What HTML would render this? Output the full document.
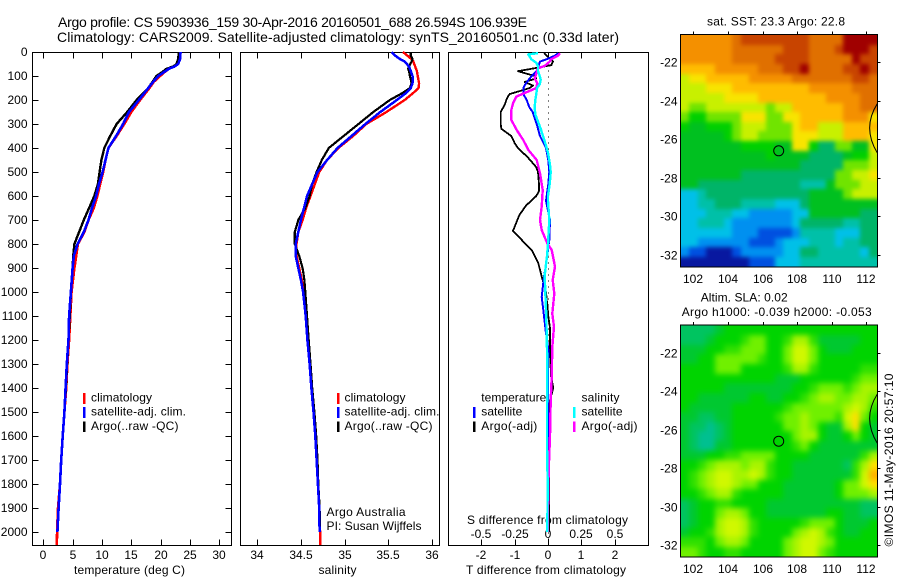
<!DOCTYPE html>
<html lang="en">
<head>
<meta charset="utf-8">
<title>Argo profile 5903936_159</title>
<style>
html,body{margin:0;padding:0;background:#fff;width:900px;height:580px;overflow:hidden}
svg{display:block}
text{font-family:"Liberation Sans",sans-serif;fill:#000;font-size:12px}
.ttl{font-size:14px}
</style>
</head>
<body>
<svg id="chart" xmlns="http://www.w3.org/2000/svg" width="900" height="580" viewBox="0 0 900 580">
<defs>
<filter id="blur-sst" x="660" y="15" width="240" height="270" filterUnits="userSpaceOnUse" color-interpolation-filters="sRGB"><feGaussianBlur stdDeviation="2"/></filter>
<filter id="blur-sla" x="660" y="305" width="240" height="270" filterUnits="userSpaceOnUse" color-interpolation-filters="sRGB"><feGaussianBlur stdDeviation="3"/></filter>
<clipPath id="clip-sst"><rect x="680.5" y="35" width="197" height="231.5"/></clipPath>
<clipPath id="clip-sla"><rect x="680.5" y="325.5" width="197" height="231"/></clipPath>
</defs>
<text class="ttl" x="58" y="27" textLength="469">Argo profile: CS 5903936_159 30-Apr-2016 20160501_688 26.594S 106.939E</text>
<text class="ttl" x="57" y="42" textLength="562">Climatology: CARS2009. Satellite-adjusted climatology: synTS_20160501.nc (0.33d later)</text>

<text x="74" y="574" textLength="111">temperature (deg C)</text>
<text x="318.5" y="574" textLength="38">salinity</text>
<text x="466" y="574" textLength="160">T difference from climatology</text>
<text x="467" y="524" textLength="161">S difference from climatology</text>

<text x="91" y="401.5" textLength="61">climatology</text>
<text x="91" y="415.5" textLength="95">satellite-adj. clim.</text>
<text x="91" y="430" textLength="87.5">Argo(..raw -QC)</text>
<rect x="83" y="393" width="2.5" height="11" fill="#f00"/>
<rect x="83" y="407" width="2.5" height="11" fill="#00f"/>
<rect x="83" y="421.5" width="2.5" height="10.5" fill="#000"/>

<text x="344.5" y="401.5" textLength="61">climatology</text>
<text x="344.5" y="415.5" textLength="95">satellite-adj. clim.</text>
<text x="344.5" y="430" textLength="88">Argo(..raw -QC)</text>
<rect x="337" y="393" width="2.5" height="11" fill="#f00"/>
<rect x="337" y="407" width="2.5" height="11" fill="#00f"/>
<rect x="337" y="421.5" width="2.5" height="10.5" fill="#000"/>

<text x="326.5" y="516" textLength="79">Argo Australia</text>
<text x="326.5" y="530" textLength="95">PI: Susan Wijffels</text>

<text x="481.3" y="401.5" textLength="65">temperature</text>
<text x="481.3" y="415.5" textLength="41">satellite</text>
<text x="481.3" y="430" textLength="56">Argo(-adj)</text>
<text x="581.5" y="401.5" textLength="38">salinity</text>
<text x="581.5" y="415.5" textLength="41">satellite</text>
<text x="581.5" y="430" textLength="56">Argo(-adj)</text>
<rect x="473" y="407" width="2.5" height="11" fill="#00f"/>
<rect x="473" y="421.5" width="2.5" height="10.5" fill="#000"/>
<rect x="573" y="407" width="2.5" height="11" fill="#0ff"/>
<rect x="573" y="421.5" width="2.5" height="10.5" fill="#f0f"/>

<text x="707" y="25.7" textLength="138">sat. SST: 23.3 Argo: 22.8</text>
<text x="700.7" y="301.7" textLength="87">Altim. SLA: 0.02</text>
<text x="681.7" y="316" textLength="190">Argo h1000: -0.039 h2000: -0.053</text>
<text transform="translate(893,546.5) rotate(-90)" textLength="173">©IMOS 11-May-2016 20:57:10</text>
</svg>
<script>
// ---- profile data ----
const tempDepths = [0,30,50,60,70,85,100,125,150,175,200,250,300,350,400,450,500,550,600,650,700,750,800,850,900,1000,1100,1200,1300,1400,1500,1600,1700,1800,1900,2000,2055];
const tempClim = [23.2,23.1,22.8,22.3,21.4,20.6,19.9,18.8,18.1,17.3,16.5,15,13.8,12.5,11.1,10.6,10.2,9.7,9.2,8.6,7.7,7,5.9,5.6,5.3,4.8,4.6,4.4,4.1,3.9,3.6,3.3,3.05,2.85,2.5,2.35,2.3];
const tempSat = [23.4,23.3,23,22.4,21.4,20.5,19.6,18.7,17.9,17.1,16.3,14.6,13.6,12.4,11.1,10.6,10.1,9.5,9,8.3,7.7,6.9,5.85,5.2,5,4.7,4.4,4.3,4,3.8,3.6,3.3,3.05,2.85,2.6,2.4];
const tempArgo = [23.1,23,22.7,22.2,21,20.2,19.3,18.6,17.9,16.9,15.9,14.3,12.5,11.4,10.4,9.9,9.6,9.3,8.7,7.8,6.9,6.1,5.3,5.1,5,4.7,4.5,4.3,4.05,3.85,3.6,3.3,3.05,2.85,2.6,2.4];

const salDepths = [0,15,30,40,60,70,80,100,130,150,170,200,250,300,350,400,450,500,550,600,650,700,750,800,850,900,950,1000,1100,1200,1300,1400,1500,1600,1700,1800,1900,2000,2055];
const salClim = [35.67,35.72,35.77,35.79,35.81,35.82,35.83,35.84,35.855,35.85,35.79,35.69,35.48,35.25,35.1,34.93,34.8,34.71,34.66,34.61,34.56,34.52,34.47,34.45,34.45,34.48,34.51,34.53,34.56,34.58,34.6,34.62,34.65,34.67,34.68,34.7,34.71,34.72,34.72];
const salSat = [35.54,35.58,35.64,35.69,35.74,35.75,35.76,35.78,35.78,35.76,35.71,35.6,35.41,35.24,35.08,34.92,34.8,34.69,34.63,34.57,34.535,34.5,34.47,34.44,34.44,34.47,34.5,34.525,34.555,34.575,34.6,34.62,34.645,34.665,34.68,34.695,34.71,34.715];
const salArgo = [35.76,35.76,35.78,35.77,35.74,35.73,35.74,35.75,35.77,35.75,35.67,35.52,35.33,35.16,34.99,34.82,34.74,34.68,34.63,34.6,34.55,34.47,34.43,34.43,34.48,34.52,34.54,34.55,34.57,34.59,34.61,34.63,34.655,34.675,34.69,34.7,34.715,34.72];

const diffTArgoDepths = [5,20,40,55,65,80,100,110,125,140,150,165,175,185,200,220,250,280,300,320,350,380,400,440,480,500,550,580,600,640,680,745,790,825,880,936,1000,1100,1150,1250,1350,1400,1450,1550,1700,1900,2000];
const diffTArgo = [-0.12,0,0.15,0.1,-0.3,-0.9,-0.4,-0.35,-0.7,-0.45,-0.55,-0.9,-1.15,-1.2,-1.25,-1.3,-1.42,-1.42,-1.42,-1.4,-1.1,-1,-0.9,-0.6,-0.35,-0.3,-0.27,-0.27,-0.35,-0.66,-0.86,-1.05,-0.74,-0.49,-0.29,-0.19,-0.06,0.01,0.06,0.06,0.09,0.16,0.06,0.04,0.03,0.03,0.03];
const diffTSatDepths = [5,15,30,40,60,80,100,130,150,175,200,230,250,300,350,400,450,500,550,600,620,700,783,867,936,1020,1075,1172,1240,1500,2000];
const diffTSat = [0.31,0.21,-0.04,-0.24,-0.29,-0.34,-0.49,-0.66,-0.74,-0.74,-0.64,-0.56,-0.46,-0.34,-0.24,-0.06,0.01,0.04,0.01,-0.04,-0.06,0.06,0.04,-0.04,-0.12,-0.19,-0.14,-0.06,0.01,0,0];
const diffSArgoDepths = [5,15,30,40,58,68,90,110,130,150,165,186,214,242,283,325,367,408,450,505,575,644,700,742,797,825,894,950,1006,1090,1145,1229,1354,1450,1600,1740,1900,2000];
const diffSArgo = [0.09,0.075,0.025,0.0125,-0.025,-0.075,-0.0875,-0.1,-0.08,-0.0875,-0.15,-0.2375,-0.2625,-0.275,-0.275,-0.235,-0.185,-0.1475,-0.085,-0.06,-0.04,-0.0475,-0.06,-0.0475,-0.005,0.0275,0.0525,0.035,0.0475,0.0325,0.045,0.0325,0.0275,0.02,0.015,0.005,0,0];
const diffSSatDepths = [5,10,30,45,60,80,100,115,135,150,175,200,230,260,290,320,350,380,420,470,500,550,600,620,700,800,850,930,1000,1100,1300,1500,1650,1800,2000];
const diffSSat = [-0.075,-0.1475,-0.125,-0.0875,-0.075,-0.075,-0.0625,-0.055,-0.0625,-0.0825,-0.0875,-0.095,-0.1,-0.095,-0.075,-0.055,-0.0375,-0.02,0,0.015,0.02,0.0125,0,0,0.01,0,-0.0075,-0.025,-0.02,-0.0125,-0.005,-0.0075,-0.0075,-0.0025,-0.005];

// ---- tick labels ----
const depthTicks = [0,100,200,300,400,500,600,700,800,900,1000,1100,1200,1300,1400,1500,1600,1700,1800,1900,2000];
const tempTicks = [0,5,10,15,20,25,30];
const salTicks = [34,34.5,35,35.5,36];
const diffTTicks = [-2,-1,0,1,2];
const diffSTicks = [-0.5,-0.25,0,0.25,0.5];
const lonTicks = [102,104,106,108,110,112];
const latTicks = [-22,-24,-26,-28,-30,-32];
const floatLon = [106.939];
const floatLat = [-26.594];

// ---- map colour-scale levels (rows north to south) ----
const sstLevels = [
[12,12,12,12,12,12,13,14,14,14,14,14,14,14,14,13,13,13,13,15,15,15,15],
[12,12,12,12,12,12,13,13,13,13,13,13,14,14,14,13,13,13,14,15,15,15,14],
[12,12,12,12,12,12,13,13,13,13,13,14,14,14,14,13,13,13,13,13,15,14,14],
[11,11,11,11,12,12,12,12,12,13,13,13,14,14,15,13,13,13,13,14,14,15,14],
[9,10,10,11,11,11,11,11,12,12,12,12,12,13,13,13,13,13,13,13,14,14,13],
[9,9,9,10,10,10,11,11,11,11,11,11,11,11,11,12,12,12,12,12,13,13,13],
[9,9,9,9,9,10,10,10,10,11,11,11,11,11,11,11,11,12,12,12,12,13,13],
[9,8,8,9,9,9,9,9,9,9,8,9,9,11,11,11,11,11,11,12,12,13,13],
[8,7,7,8,8,8,8,10,10,10,8,8,10,10,11,11,11,11,11,12,12,12,10],
[7,6,6,7,7,7,8,9,9,9,8,8,8,10,11,11,9,9,9,11,11,11,11],
[6,6,6,6,6,7,8,9,9,8,8,8,8,10,10,10,9,9,9,11,11,11,10],
[6,6,6,6,6,6,6,7,7,7,7,6,6,10,10,7,5,5,8,8,6,6,10],
[6,6,6,6,6,6,6,6,6,6,7,6,6,6,6,5,5,5,5,6,7,7,9],
[6,6,6,6,6,6,6,6,6,6,6,6,6,6,5,5,5,5,5,8,8,8,9],
[6,6,6,6,6,6,6,5,5,5,5,5,5,5,5,5,5,5,8,8,9,9,10],
[6,6,5,5,5,5,5,5,5,5,5,5,5,5,4,4,4,6,8,8,8,9,9],
[3,3,4,5,5,5,5,5,5,5,5,5,5,5,5,6,6,6,6,8,9,9,9],
[3,3,4,4,5,5,5,4,4,4,4,3,3,3,5,6,6,6,6,6,6,6,6],
[3,3,3,4,4,4,3,3,2,2,2,2,2,3,3,6,6,6,6,6,6,5,5],
[3,3,4,4,4,3,2,2,2,2,2,2,2,3,5,5,5,5,5,4,4,5,5],
[3,3,3,3,3,3,2,2,2,1,1,1,1,2,4,4,4,4,3,3,3,5,5],
[3,3,2,2,2,2,2,2,1,1,1,2,3,3,3,4,4,4,3,4,4,5,5],
[2,1,1,0,0,0,1,2,2,2,2,2,3,3,5,5,4,4,4,4,4,3,5],
[0,0,0,0,0,0,0,0,1,1,1,3,3,3,4,4,4,4,4,4,4,4,4]
];
const slaLevels = [
[1,1,1,1,2,3,3,3,3,3,3,3,3,3,3,3,3,3,3,3,3,3,3],
[1,1,1,2,3,3,3,4,5,5,3,3,4,6,6,4,2,2,2,2,2,3,3],
[2,2,2,3,3,4,4,5,5,5,3,3,5,7,7,5,3,2,2,2,3,3,3],
[2,2,3,3,5,5,5,5,5,4,3,3,5,7,7,5,3,3,3,3,3,3,3],
[3,3,3,3,5,5,5,3,3,3,3,3,4,6,6,4,3,3,3,3,3,4,4],
[3,3,3,3,3,3,3,3,3,3,3,2,2,2,3,3,3,3,3,3,4,5,5],
[3,3,3,3,3,2,2,2,2,2,2,2,2,3,3,4,5,5,5,4,5,6,6],
[3,3,2,2,2,2,2,2,3,3,2,2,3,3,4,5,6,6,5,5,6,6,5],
[3,2,2,2,2,2,3,3,3,3,3,3,4,5,5,5,5,5,5,6,7,6,4],
[2,2,1,1,2,2,3,3,3,3,3,4,5,5,6,5,5,5,4,7,8,5,3],
[2,1,1,0,1,2,3,3,3,3,3,3,5,5,6,5,3,2,2,6,8,3,2],
[2,1,0,0,1,2,3,3,3,3,3,3,3,5,6,6,3,2,2,3,5,3,2],
[2,1,0,0,2,2,3,3,3,3,3,3,3,4,5,3,2,2,2,2,2,2,2],
[2,2,2,3,3,4,4,5,5,5,5,3,3,3,3,2,2,2,2,2,2,4,6],
[3,3,4,5,6,6,6,5,6,6,4,3,3,2,2,2,2,2,2,1,4,6,8],
[3,4,5,6,7,7,6,6,7,6,4,3,3,2,2,2,2,2,2,2,4,7,9],
[3,4,5,6,7,7,6,5,5,3,3,3,2,2,2,2,2,2,3,5,5,7,8],
[3,3,4,5,6,6,4,3,3,3,3,3,2,2,2,2,2,2,3,5,5,5,6],
[1,2,3,3,4,4,3,3,3,3,2,2,2,2,2,2,2,2,2,2,2,1,1],
[1,2,3,3,5,6,6,5,3,3,2,2,2,2,2,2,2,3,3,2,2,1,1],
[1,2,3,3,6,7,7,6,4,3,3,3,3,3,4,5,5,5,3,2,2,2,3],
[2,3,3,4,6,7,7,6,4,3,3,3,3,5,6,7,6,4,3,2,2,3,3],
[4,4,4,3,5,6,6,5,3,3,3,3,5,6,7,7,6,5,3,3,3,3,3],
[5,5,4,3,3,4,4,3,3,3,3,3,5,6,7,7,5,4,3,3,3,3,3]
];
const sstColors = ['#0818a0','#0050e0','#0090f0','#00c0e8','#00c0a8','#00b468','#00c020','#00d000','#70e400','#c8f000','#f8e400','#ffbc00','#f49000','#e07000','#c84400','#a00000'];
const slaColors = ['#00c090','#00c460','#00c830','#00d400','#30e000','#70f000','#a8f400','#d0f800','#ffe000','#ffb000'];

// ---- helpers ----
const NS = 'http://www.w3.org/2000/svg';
const svg = document.getElementById('chart');
function mk(tag, attrs, txt, parent) {
  const el = document.createElementNS(NS, tag);
  for (const k in attrs) el.setAttribute(k, attrs[k]);
  if (txt !== undefined && txt !== null) el.textContent = txt;
  (parent || svg).appendChild(el);
  return el;
}
const depthY = d => 52 + d * 0.24;
const tempX = t => 43.3 + t * 5.867;
const salX = s => 257.3 + (s - 34) * 87.2;
const diffTX = t => 548 + t * 33.33;
const diffSX = s => 548 + s * 4 * 33.33;
const TOP = 52.5, BOT = 545.5;

function frame(name, x0, x1) {
  const el = mk('rect', {x:x0, y:TOP, width:x1-x0, height:BOT-TOP, fill:'none', stroke:'#000', 'stroke-width':1.2, 'shape-rendering':'crispEdges'});
  
  
}
function xTicks(prefix, vals, xf, labelY, top, bottom) {
  vals.forEach(v => {
    const x = Math.round(xf(v)) + 0.5;
    if (bottom) {
      const t = mk('line', {x1:x, x2:x, y1:BOT, y2:BOT-6, stroke:'#000', 'shape-rendering':'crispEdges'});
      
      
    }
    if (top) {
      const t2 = mk('line', {x1:x, x2:x, y1:TOP, y2:TOP+6, stroke:'#000', 'shape-rendering':'crispEdges'});
      
      
    }
    const l = mk('text', {x:x-0.5, y:labelY, 'text-anchor':'middle'}, String(v));
    
    
  });
}
function profile(name, depths, vals, xf, color, w) {
  const pts = [];
  for (let i = 0; i < vals.length && i < depths.length; i++) pts.push(xf(vals[i]).toFixed(1) + ',' + depthY(depths[i]).toFixed(1));
  const el = mk('polyline', {points:pts.join(' '), fill:'none', stroke:color, 'stroke-width':w, 'shape-rendering':'crispEdges', 'stroke-linejoin':'round'});
  
  
}

// ---- panel 1: temperature ----
frame('temperature-plot-frame', 32.5, 231.5);
depthTicks.forEach(d => {
  const y = Math.floor(depthY(d)) + 0.5;
  const a = mk('line', {x1:32.5, x2:38.5, y1:y, y2:y, stroke:'#000', 'shape-rendering':'crispEdges'});
  
  
  const b = mk('line', {x1:225.5, x2:231.5, y1:y, y2:y, stroke:'#000', 'shape-rendering':'crispEdges'});
  
  
  const l = mk('text', {x:27.5, y:y+3.5, 'text-anchor':'end'}, String(d));
  
  
});
xTicks('temperature', tempTicks, tempX, 559, true, true);
profile('temperature-climatology-line', tempDepths, tempClim, tempX, '#f00', 2.6);
profile('temperature-argo-line', tempDepths, tempArgo, tempX, '#000', 2.4);
profile('temperature-satellite-line', tempDepths, tempSat, tempX, '#00f', 2.6);

// ---- panel 2: salinity ----
frame('salinity-plot-frame', 240.5, 439.5);
xTicks('salinity', salTicks, salX, 559, true, true);
profile('salinity-climatology-line', salDepths, salClim, salX, '#f00', 2.4);
profile('salinity-argo-line', salDepths, salArgo, salX, '#000', 2.2);
profile('salinity-satellite-line', salDepths, salSat, salX, '#00f', 2.5);

// ---- panel 3: differences ----
frame('difference-plot-frame', 448.5, 648.5);
xTicks('t-difference', diffTTicks, diffTX, 559, true, true);
xTicks('s-difference', diffSTicks, diffSX, 538, false, false);
const zero = mk('line', {x1:548.5, x2:548.5, y1:TOP, y2:BOT, stroke:'#000', 'stroke-dasharray':'1 5', 'shape-rendering':'crispEdges'});


profile('t-difference-argo-line', diffTArgoDepths, diffTArgo, diffTX, '#000', 1.8);
profile('t-difference-satellite-line', diffTSatDepths, diffTSat, diffTX, '#00f', 2);
profile('s-difference-argo-line', diffSArgoDepths, diffSArgo, diffSX, '#f0f', 2.4);
profile('s-difference-satellite-line', diffSSatDepths, diffSSat, diffSX, '#0ff', 2.4);

// ---- maps ----
const lonX = lon => 693.3 + (lon - 102) * 17.3;
const LON0 = 101.28, LON1 = 112.64;
function drawMap(prefix, levels, colors, top, bottom, latRefY, labelY) {
  const latY = lat => latRefY + (-22 - lat) * 19.27;
  const lat0 = -22 + (latRefY - top) / 19.27;
  const lat1 = -22 + (latRefY - bottom) / 19.27;
  const nCols = levels[0].length, nRows = levels.length;
  const dLon = (LON1 - LON0) / nCols;
  const dLat = (lat0 - lat1) / nRows;
  const clip = mk('g', {'clip-path':'url(#clip-' + prefix + ')'});
  
  
  const group = mk('g', {filter:'url(#blur-' + prefix + ')'}, null, clip);
  
  
  levels.forEach((row, r) => row.forEach((v, c) => {
    let x0 = Math.round(lonX(LON0 + c * dLon)), x1 = Math.round(lonX(LON0 + (c + 1) * dLon));
    let y0 = Math.round(latY(lat0 - r * dLat)), y1 = Math.round(latY(lat0 - (r + 1) * dLat));
    if (c === 0) x0 -= 14;
    if (c === nCols - 1) x1 += 14;
    if (r === 0) y0 -= 14;
    if (r === nRows - 1) y1 += 14;
    const cell = mk('rect', {x:x0, y:y0, width:x1-x0, height:y1-y0, fill:colors[Math.max(0, Math.min(colors.length - 1, Math.round(v)))], 'shape-rendering':'crispEdges'}, null, group);
    
    
  }));
  const xl = 680.5, xr = 877.5;
  const box = mk('rect', {x:xl, y:top-0.5, width:xr-xl, height:bottom-top+1, fill:'none', stroke:'#000', 'stroke-width':1.2, 'shape-rendering':'crispEdges'});
  
  
  lonTicks.forEach(lon => {
    const x = Math.round(lonX(lon)) + 0.5;
    const t = mk('line', {x1:x, x2:x, y1:top-0.5, y2:top-3.5, stroke:'#000', 'shape-rendering':'crispEdges'});
    
    
    const l = mk('text', {x:x-0.5, y:labelY, 'text-anchor':'middle'}, String(lon));
    
    
  });
  latTicks.forEach(lat => {
    const y = Math.round(latY(lat)) + 0.5;
    const t = mk('line', {x1:xr, x2:xr+3, y1:y, y2:y, stroke:'#000', 'shape-rendering':'crispEdges'});
    
    
    const l = mk('text', {x:677.5, y:y+4, 'text-anchor':'end'}, String(lat));
    
    
  });
  const coast = mk('path', {d:'M877.3 ' + latY(-24.15).toFixed(1) + ' Q862 ' + latY(-25.4).toFixed(1) + ' 877.3 ' + latY(-26.7).toFixed(1), fill:'none', stroke:'#000', 'stroke-width':1});
  
  
  const mark = mk('circle', {cx:lonX(floatLon[0]).toFixed(1), cy:latY(floatLat[0]).toFixed(1), r:5, fill:'none', stroke:'#000', 'stroke-width':1});
  
  
}
drawMap('sst', sstLevels, sstColors, 35, 266.5, 62.3, 283);
drawMap('sla', slaLevels, slaColors, 325.5, 556.5, 352.7, 573);
</script>
</body>
</html>
